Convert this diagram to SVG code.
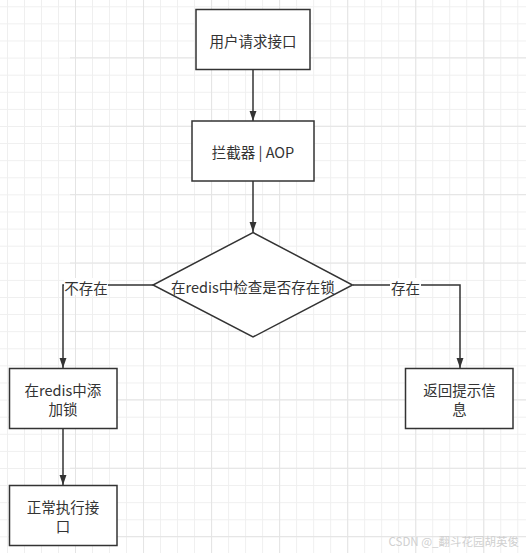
<svg xmlns="http://www.w3.org/2000/svg" width="526" height="553" viewBox="0 0 526 553">
<defs>
<pattern id="minor" patternUnits="userSpaceOnUse" x="7" y="6.3" width="17.01" height="17.1">
<path d="M0.5 0V17.1M0 0.5H17.01" stroke="#efefef" stroke-width="1" fill="none"/>
</pattern>
<pattern id="major" patternUnits="userSpaceOnUse" x="75" y="57.3" width="68.05" height="68.4">
<path d="M0.5 0V68.4M0 0.5H68.05" stroke="#e4e4e4" stroke-width="1" fill="none"/>
</pattern>
<marker id="arr" markerWidth="10" markerHeight="14" refX="13" refY="4.5" orient="auto" markerUnits="userSpaceOnUse" viewBox="0 0 13 9">
<path d="M0 0L13 4.5L0 9Z" fill="#333"/>
</marker>
<style>
.n{fill:#fff;stroke:#333;stroke-width:1.5}
.t{font-family:"Noto Sans CJK SC","Noto Sans",sans-serif;font-size:14.5px;fill:#333;text-anchor:middle;dominant-baseline:central}
.c{fill:none;stroke:#333;stroke-width:1.5}
</style>
</defs>
<rect width="526" height="553" fill="#fff"/>
<rect width="526" height="553" fill="url(#minor)"/>
<rect x="70" y="0" width="456" height="553" fill="url(#major)"/>
<g id="connectors">
<path class="c" d="M253 70V121" marker-end="url(#arr)"/>
<path class="c" d="M253 181V232" marker-end="url(#arr)"/>
<path class="c" d="M153 285H63V368" marker-end="url(#arr)"/>
<path class="c" d="M353 285H460V368" marker-end="url(#arr)"/>
<path class="c" d="M63 428V485" marker-end="url(#arr)"/>
<rect x="64" y="278" width="44" height="17" fill="#fff"/>
<text class="t" x="86" y="287">不存在</text>
<rect x="390" y="278" width="31" height="17" fill="#fff"/>
<text class="t" x="405.5" y="287">存在</text>
</g>
<g id="n1">
<rect class="n" x="196" y="9.5" width="114" height="60"/>
<text class="t" x="253" y="40.5">用户请求接口</text>
</g>
<g id="n2">
<rect class="n" x="192" y="121" width="122" height="60"/>
<text class="t" x="253" y="151">拦截器 | AOP</text>
</g>
<g id="n3">
<path class="n" d="M253 232.5L352.5 285L253 337L153 285Z"/>
<text class="t" x="253" y="286">在redis中检查是否存在锁</text>
</g>
<g id="n4">
<rect class="n" x="9.5" y="368.5" width="107.5" height="60"/>
<text class="t" x="63" y="389.5">在redis中添</text>
<text class="t" x="63" y="408.5">加锁</text>
</g>
<g id="n5">
<rect class="n" x="405.5" y="368.5" width="107.5" height="60"/>
<text class="t" x="459.5" y="389.5">返回提示信</text>
<text class="t" x="459.5" y="408.5">息</text>
</g>
<g id="n6">
<rect class="n" x="9.5" y="485.5" width="107.5" height="60"/>
<text class="t" x="63" y="506">正常执行接</text>
<text class="t" x="63" y="525">口</text>
</g>
<text x="519" y="545.5" font-family="'Noto Sans CJK SC','Noto Sans',sans-serif" font-size="11.5" fill="#d0d0d0" text-anchor="end">CSDN @_翻斗花园胡英俊</text>
</svg>
